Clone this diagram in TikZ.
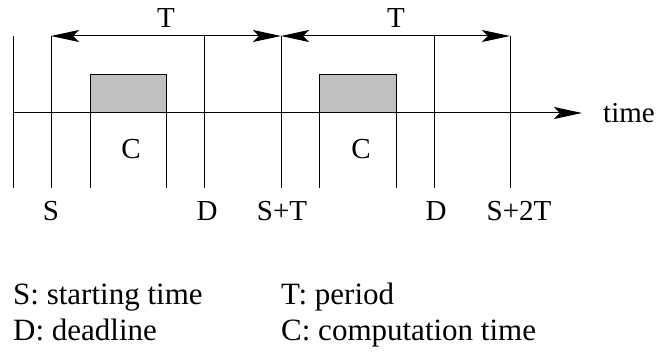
\documentclass[tikz,border=0pt]{standalone}
\usepackage{fontspec}
\setmainfont{Liberation Serif}
\usetikzlibrary{arrows.meta}
\begin{document}
\begin{tikzpicture}[x=1pt,y=-1pt,
  rule/.style={line width=1pt},
  job/.style={rule, fill=black!25},
  lbl/.style={inner sep=0pt, anchor=base, font=\fontsize{29}{34}\selectfont},
  legend/.style={lbl, anchor=base west, font=\fontsize{31}{36}\selectfont},
  head/.tip={Stealth[length=28pt,width=12pt,inset=6pt]}]
\useasboundingbox (0,0) rectangle (657,352);
\fill[white] (0,0) rectangle (657,352);

% full-height time marks
\foreach \name/\x in {z/13, s/51, d/204, st/281, d2/434, s2t/510}{
  \coordinate (\name-top) at (\x,36);
  \coordinate (\name-bot) at (\x,188);
  \coordinate (\name-ax) at (\x,113);
  \draw[rule] (\name-top) -- (\name-bot);
}

% computation slots: the box edges continue down to the bottom marks
\foreach \name/\xa/\xb in {c1/90/166, c2/319/396}{
  \coordinate (\name-tl) at (\xa,75);
  \coordinate (\name-tr) at (\xb,75);
  \coordinate (\name-bl) at (\xa,188);
  \coordinate (\name-br) at (\xb,188);
  \draw[job] (\xa,113) rectangle (\name-tr);
  \draw[rule] (\name-tl) -- (\name-bl);
  \draw[rule] (\name-tr) -- (\name-br);
}

% time axis
\coordinate (axis-end) at (582,113);
\draw[rule, -head] (z-ax) -- (axis-end);
\node[lbl, anchor=west] (time) at (603,113) {time};

% periods
\draw[rule, head-head] (s-top) -- (st-top);
\draw[rule, head-head] (st-top) -- (s2t-top);
\node[lbl] (T1) at (166,28) {T};
\node[lbl] (T2) at (396,28) {T};

% computation labels
\node[lbl] (C1) at (131,159) {C};
\node[lbl] (C2) at (361,159) {C};

% instants
\node[lbl] (lS) at (51,221) {S};
\node[lbl] (lD) at (207,221) {D};
\node[lbl] (lST) at (282,221) {S+T};
\node[lbl] (lD2) at (436,221) {D};
\node[lbl] (lS2T) at (519,221) {S+2T};

% key
\node[legend] (kS) at (13,305) {S: starting time};
\node[legend] (kD) at (13,341) {D: deadline};
\node[legend] (kT) at (281,305) {T: period};
\node[legend] (kC) at (281,341) {C: computation time};
\end{tikzpicture}
\end{document}
